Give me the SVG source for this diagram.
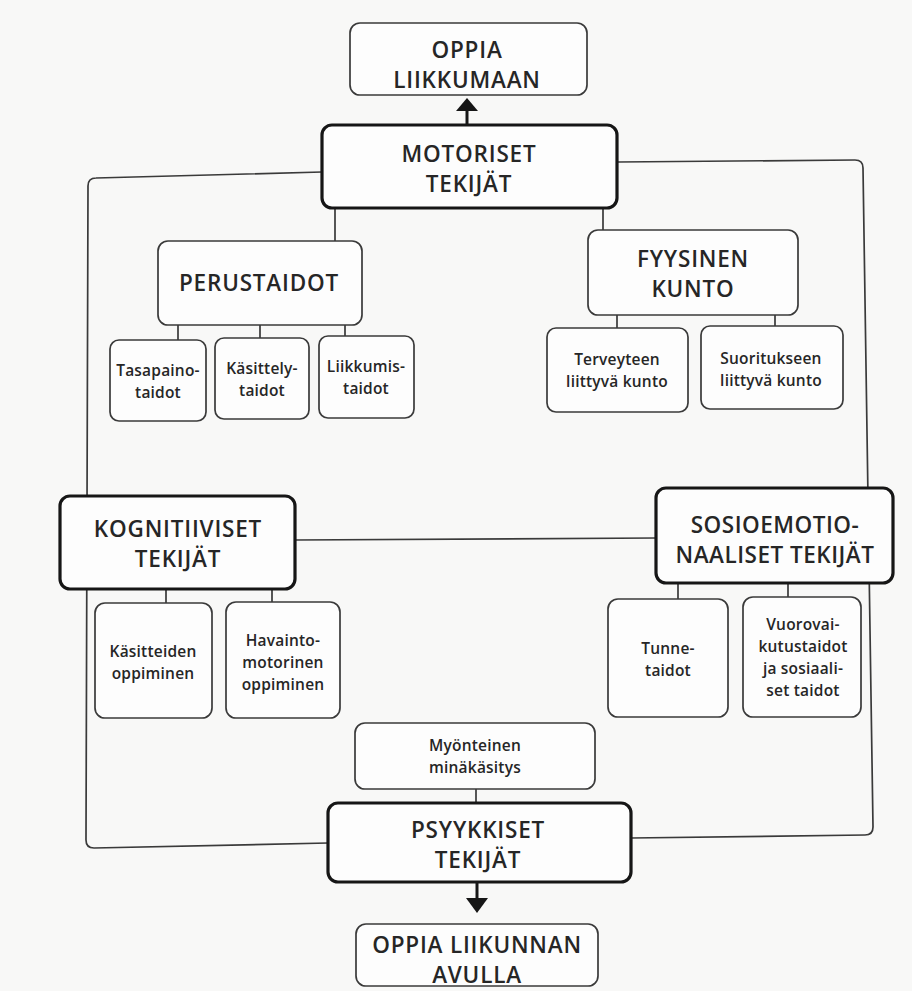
<svg xmlns="http://www.w3.org/2000/svg" width="912" height="991" viewBox="0 0 912 991">
<defs>
<style>
.bg{fill:#f8f8f7}
.n{fill:#fdfdfd;stroke:#3a3a3a;stroke-width:1.7}
.k{fill:#fdfdfd;stroke:#161616;stroke-width:3.2}
.c{fill:none;stroke:#3a3a3a;stroke-width:1.7}
.big{font-family:"Open Sans","Liberation Sans",sans-serif;font-weight:600;font-size:22.5px;letter-spacing:0.8px;fill:#262626;text-anchor:middle}
.sm{font-family:"Open Sans","Liberation Sans",sans-serif;font-weight:600;font-size:15.5px;letter-spacing:0.2px;fill:#262626;text-anchor:middle}
</style>
</defs>
<rect class="bg" x="0" y="0" width="912" height="991"/>
<g id="connectors">
<path class="c" d="M322,172 L96,178 Q88,178 88,186 L86,840 Q86,848 94,848 L328,843"/>
<path class="c" d="M618,162 L855,160 Q863,160 863,168 L873,827 Q873,835 865,835 L631,838"/>
<path class="c" d="M295,540 L656,538"/>
<path class="c" d="M335,208 L335,241 M603,205 L603,230"/>
<path class="c" d="M178,325 L178,340 M260,325 L260,338 M345,325 L345,336"/>
<path class="c" d="M617,315 L617,328 M775,315 L775,326"/>
<path class="c" d="M166,589 L166,603 M272,589 L272,602"/>
<path class="c" d="M678,583 L678,599 M788,583 L788,597"/>
<path class="c" d="M476,789 L476,804"/>
<path fill="none" stroke="#161616" stroke-width="3" d="M467,127 L467,108"/>
<polygon fill="#161616" points="467,98 478,111 456,111"/>
<path fill="none" stroke="#161616" stroke-width="3" d="M477,882 L477,900"/>
<polygon fill="#161616" points="477,913 488,898 466,898"/>
</g>
<g id="oppia-liikkumaan">
<rect class="n" x="350" y="23" width="237" height="72" rx="10"/>
<text class="big"><tspan x="467" y="57.5">OPPIA</tspan><tspan x="467" y="87.5">LIIKKUMAAN</tspan></text>
</g>
<g id="motoriset">
<rect class="k" x="322" y="125" width="295" height="83" rx="10"/>
<text class="big"><tspan x="469" y="162">MOTORISET</tspan><tspan x="469" y="192">TEKIJÄT</tspan></text>
</g>
<g id="perustaidot">
<rect class="n" x="158" y="241" width="204" height="84" rx="10"/>
<text class="big" x="259" y="291">PERUSTAIDOT</text>
</g>
<g id="tasapaino">
<rect class="n" x="110" y="340" width="96" height="81" rx="9"/>
<text class="sm"><tspan x="158" y="376">Tasapaino-</tspan><tspan x="158" y="398">taidot</tspan></text>
</g>
<g id="kasittely">
<rect class="n" x="215" y="338" width="94" height="81" rx="9"/>
<text class="sm"><tspan x="262" y="374">Käsittely-</tspan><tspan x="262" y="396">taidot</tspan></text>
</g>
<g id="liikkumis">
<rect class="n" x="319" y="336" width="95" height="82" rx="9"/>
<text class="sm"><tspan x="366" y="372">Liikkumis-</tspan><tspan x="366" y="394">taidot</tspan></text>
</g>
<g id="fyysinen">
<rect class="n" x="588" y="230" width="210" height="85" rx="10"/>
<text class="big"><tspan x="693" y="267">FYYSINEN</tspan><tspan x="693" y="297">KUNTO</tspan></text>
</g>
<g id="terveyteen">
<rect class="n" x="547" y="328" width="141" height="84" rx="9"/>
<text class="sm"><tspan x="617" y="365">Terveyteen</tspan><tspan x="617" y="387">liittyvä kunto</tspan></text>
</g>
<g id="suoritukseen">
<rect class="n" x="701" y="326" width="142" height="83" rx="9"/>
<text class="sm"><tspan x="771" y="364">Suoritukseen</tspan><tspan x="771" y="386">liittyvä kunto</tspan></text>
</g>
<g id="kognitiiviset">
<rect class="k" x="60" y="496" width="235" height="93" rx="10"/>
<text class="big"><tspan x="178" y="537">KOGNITIIVISET</tspan><tspan x="178" y="567">TEKIJÄT</tspan></text>
</g>
<g id="kasitteiden">
<rect class="n" x="95" y="603" width="117" height="115" rx="10"/>
<text class="sm"><tspan x="153" y="657">Käsitteiden</tspan><tspan x="153" y="679">oppiminen</tspan></text>
</g>
<g id="havainto">
<rect class="n" x="226" y="602" width="114" height="116" rx="10"/>
<text class="sm"><tspan x="283" y="646">Havainto-</tspan><tspan x="283" y="668">motorinen</tspan><tspan x="283" y="690">oppiminen</tspan></text>
</g>
<g id="sosioemotionaaliset">
<rect class="k" x="656" y="488" width="237" height="95" rx="10"/>
<text class="big" style="letter-spacing:0.5px"><tspan x="775" y="533">SOSIOEMOTIO-</tspan><tspan x="775" y="563">NAALISET TEKIJÄT</tspan></text>
</g>
<g id="tunne">
<rect class="n" x="608" y="599" width="120" height="118" rx="10"/>
<text class="sm"><tspan x="668" y="654">Tunne-</tspan><tspan x="668" y="676">taidot</tspan></text>
</g>
<g id="vuorovaikutus">
<rect class="n" x="743" y="597" width="118" height="120" rx="10"/>
<text class="sm"><tspan x="803" y="630">Vuorovai-</tspan><tspan x="803" y="652">kutustaidot</tspan><tspan x="803" y="674">ja sosiaali-</tspan><tspan x="803" y="696">set taidot</tspan></text>
</g>
<g id="myonteinen">
<rect class="n" x="355" y="723" width="240" height="66" rx="10"/>
<text class="sm"><tspan x="475" y="751">Myönteinen</tspan><tspan x="475" y="773">minäkäsitys</tspan></text>
</g>
<g id="psyykkiset">
<rect class="k" x="328" y="803" width="303" height="79" rx="10"/>
<text class="big"><tspan x="478" y="838">PSYYKKISET</tspan><tspan x="478" y="868">TEKIJÄT</tspan></text>
</g>
<g id="oppia-liikunnan">
<rect class="n" x="356" y="924" width="242" height="62" rx="10"/>
<text class="big"><tspan x="477" y="953">OPPIA LIIKUNNAN</tspan><tspan x="477" y="983">AVULLA</tspan></text>
</g>
</svg>
